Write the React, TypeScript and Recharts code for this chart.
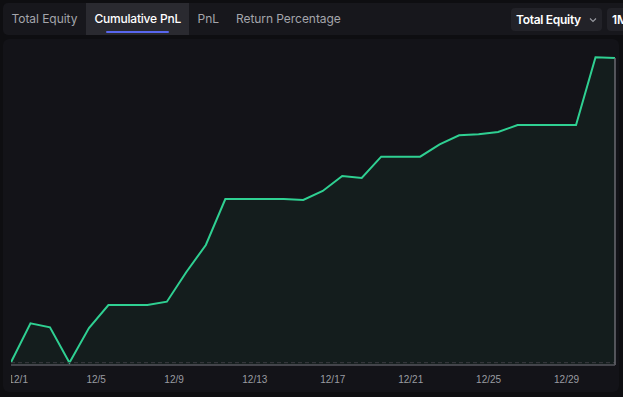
import React from 'react';
import { AreaChart, Area, XAxis, YAxis, ReferenceLine } from 'recharts';

const dates = [
  '12/1', '12/2', '12/3', '12/4', '12/5', '12/6', '12/7', '12/8',
  '12/9', '12/10', '12/11', '12/12', '12/13', '12/14', '12/15', '12/16',
  '12/17', '12/18', '12/19', '12/20', '12/21', '12/22', '12/23', '12/24',
  '12/25', '12/26', '12/27', '12/28', '12/29', '12/30', '12/31', '1/1',
];

const cumulativePnl = [
  5, 394, 354, 0, 347, 577, 577, 577,
  610, 907, 1177, 1637, 1637, 1637, 1637, 1627,
  1717, 1867, 1847, 2060, 2060, 2060, 2184, 2274,
  2284, 2307, 2377, 2377, 2377, 2377, 3054, 3047,
];

const tickLabels = ['12/1', '12/5', '12/9', '12/13', '12/17', '12/21', '12/25', '12/29'];

const tabs = ['Total Equity', 'Cumulative PnL', 'PnL', 'Return Percentage'];
const activeTab = 'Cumulative PnL';

const chartData = dates.map((date, i) => ({ date, pnl: cumulativePnl[i] }));
const lastDate = dates[dates.length - 1];
const lastValue = cumulativePnl[cumulativePnl.length - 1];

const GREEN = '#2fd092';

const DateTick = (props: any) => {
  const { x, y, payload } = props;
  return (
    <text
      x={x - 2.5}
      y={y + 10}
      textAnchor="start"
      fill="#9a9ca2"
      fontSize={10}
      fontFamily="'Liberation Sans', Arial, sans-serif"
    >
      {payload.value}
    </text>
  );
};

const Chevron = () => (
  <svg width="8" height="6" viewBox="0 0 8 6" style={{ position: 'absolute', left: 78, top: 9 }}>
    <path d="M1 1.5 L4 4.5 L7 1.5" fill="none" stroke="#9a9ca2" strokeWidth="1.1" />
  </svg>
);

export default function App() {
  return (
    <div
      style={{
        position: 'fixed',
        left: 0,
        top: 0,
        width: 623,
        height: 397,
        background: '#0e0e11',
        overflow: 'hidden',
        fontFamily: 'Inter, sans-serif',
      }}
    >
      {/* top tab bar */}
      <div
        style={{
          position: 'absolute',
          left: 3,
          top: 3,
          width: 650,
          height: 32,
          background: '#17171c',
          borderRadius: 5,
        }}
      >
        <div style={{ display: 'flex', height: 32 }}>
          {tabs.map((t) => {
            const active = t === activeTab;
            return (
              <div
                key={t}
                style={{
                  position: 'relative',
                  padding: active ? '0 8px 0 8.5px' : '0 8.5px',
                  lineHeight: '32px',
                  fontSize: 12,
                  color: active ? '#ffffff' : '#a4a5ab',
                  fontWeight: active ? 500 : 400,
                  letterSpacing: active ? -0.2 : -0.05,
                  background: active ? '#2a2a30' : 'transparent',
                  whiteSpace: 'nowrap',
                }}
              >
                {t}
                {active && (
                  <div
                    style={{
                      position: 'absolute',
                      left: '50%',
                      marginLeft: -31.5,
                      width: 63,
                      height: 2,
                      bottom: 2,
                      background: '#5866ee',
                      borderRadius: 1,
                    }}
                  />
                )}
              </div>
            );
          })}
        </div>
        <div
          style={{
            position: 'absolute',
            left: 508,
            top: 4.5,
            width: 91,
            height: 23,
            background: '#222228',
            borderRadius: 4,
            color: '#fff',
            fontSize: 12,
            fontWeight: 600,
            letterSpacing: -0.3,
            lineHeight: '23px',
            paddingLeft: 5,
            boxSizing: 'border-box',
          }}
        >
          Total Equity
          <Chevron />
        </div>
        <div
          style={{
            position: 'absolute',
            left: 603.5,
            top: 4.5,
            width: 40,
            height: 23,
            background: '#222228',
            borderRadius: 4,
            color: '#fff',
            fontSize: 12,
            fontWeight: 600,
            lineHeight: '23px',
            paddingLeft: 5.5,
            boxSizing: 'border-box',
          }}
        >
          1M
        </div>
      </div>

      {/* chart panel */}
      <div
        style={{
          position: 'absolute',
          left: 3,
          top: 39,
          width: 616,
          height: 353,
          background: '#131318',
          borderRadius: 6,
        }}
      />

      <div style={{ position: 'absolute', left: 11, top: 40, width: 606, height: 355, overflow: 'hidden' }}>
        <AreaChart width={606} height={355} data={chartData} margin={{ top: 0, right: 2, bottom: 0, left: 0 }}>
          <XAxis
            dataKey="date"
            ticks={tickLabels}
            interval={0}
            tickLine={false}
            axisLine={{ stroke: '#55555b', strokeWidth: 1.5 }}
            height={30}
            tick={<DateTick />}
          />
          <YAxis hide domain={[-23, 3227]} />
          <ReferenceLine y={0} stroke="#3c3c42" strokeDasharray="4 3" />
          <ReferenceLine
            segment={[
              { x: lastDate, y: -23 },
              { x: lastDate, y: lastValue },
            ]}
            stroke="#6a6a70"
            strokeWidth={1.5}
          />
          <Area
            type="linear"
            dataKey="pnl"
            stroke={GREEN}
            strokeWidth={2}
            fill={GREEN}
            fillOpacity={0.05}
            baseValue="dataMin"
            isAnimationActive={false}
            dot={false}
            activeDot={false}
          />
        </AreaChart>
      </div>
    </div>
  );
}
